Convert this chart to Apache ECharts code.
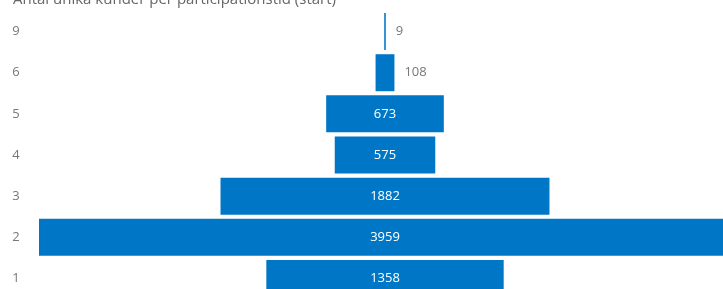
<!DOCTYPE html>
<html>
<head>
<meta charset="utf-8">
<script src="https://cdn.jsdelivr.net/npm/echarts@6/dist/echarts.min.js"></script>
<style>
html,body{margin:0;padding:0;background:#fff;}
#chart{width:723px;height:289px;}
</style>
</head>
<body>
<div id="chart"></div>
<script>
// kategorier uppifrån och ned
let categories = ['9','6','5','4','3','2','1'];
let values = [9,108,673,575,1882,3959,1358];
let titleText = 'Antal unika kunder per participationstid (start)';

let maxVal = Math.max.apply(null, values);
// osynlig utfyllnad så att staplarna centreras
let padding = values.map(v => (maxVal - v) / 2);

let myChart = echarts.init(document.getElementById('chart'), null, {renderer:'canvas'});

let option = {
	animation:false,
	title:{
		text:titleText,
		left:8,
		top:-13,
		textStyle:{fontFamily:'Open Sans',fontSize:15,fontWeight:'normal',color:'#666'}
	},
	grid:{left:39,top:11,width:692,height:288,containLabel:false,outerBoundsMode:'none'},
	xAxis:{
		type:'value',min:0,max:maxVal,show:false
	},
	yAxis:{
		type:'category',
		data:categories,
		inverse:true,
		axisLine:{show:false},
		axisTick:{show:false},
		splitLine:{show:false},
		axisLabel:{
			margin:23,
			align:'center',
			color:'#777',
			fontFamily:'Open Sans',
			fontSize:13
		}
	},
	series:[
		{
			type:'bar',
			stack:'s',
			data:padding,
			barWidth:37,
			itemStyle:{color:'transparent'},
			silent:true
		},
		{
			type:'bar',
			stack:'s',
			data:values.map(v => ({
				value:v,
				label:v < 300 ? {position:'right',color:'#777',distance:10} : {position:'inside',color:'#fff'}
			})),
			barWidth:37,
			itemStyle:{color:'#0077c6'},
			label:{
				show:true,
				fontFamily:'Open Sans',
				fontSize:13
			}
		}
	]
};

myChart.setOption(option);
</script>
</body>
</html>
